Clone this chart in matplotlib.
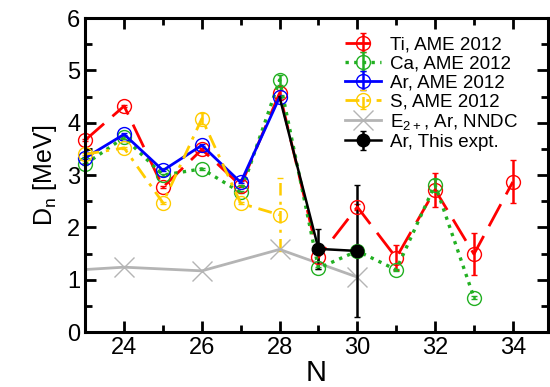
import numpy as np
import matplotlib
matplotlib.use("Agg")
import matplotlib.pyplot as plt
from matplotlib.ticker import MultipleLocator

plt.rcParams['font.family'] = ['Liberation Sans', 'DejaVu Sans']
plt.rcParams['mathtext.default'] = 'regular'

# data
n_ti = [23, 24, 25, 26, 27, 28, 29, 30, 31, 32, 33, 34]
d_ti = [3.67, 4.32, 2.77, 3.49, 2.80, 4.57, 1.43, 2.39, 1.42, 2.72, 1.49, 2.87]
e_ti = [0.02, 0.02, 0.02, 0.02, 0.02, 0.05, 0.1, 0.05, 0.24, 0.33, 0.40, 0.41]

n_ca = [23, 24, 25, 26, 27, 28, 29, 30, 31, 32, 33]
d_ca = [3.21, 3.72, 3.00, 3.12, 2.67, 4.82, 1.22, 1.55, 1.19, 2.82, 0.66]
e_ca = [0.02, 0.02, 0.02, 0.02, 0.02, 0.1, 0.02, 0.02, 0.02, 0.1, 0.02]

n_ar = [23, 24, 25, 26, 27, 28]
d_ar = [3.33, 3.78, 3.09, 3.57, 2.86, 4.49]
e_ar = [0.02, 0.02, 0.02, 0.02, 0.02, 0.05]

n_s = [23, 24, 25, 26, 27, 28]
d_s = [3.40, 3.52, 2.47, 4.08, 2.46, 2.24]
e_s = [0.02, 0.02, 0.02, 0.1, 0.02, 0.70]

n_e2 = [22, 24, 26, 28, 30]
e2_ar = [1.15, 1.24, 1.17, 1.58, 1.05]

n_exp = [28, 29, 30]
d_exp = [4.49, 1.59, 1.55]
e_exp = [0.0, 0.38, 1.26]

fig = plt.figure(figsize=(5.5, 3.87), dpi=100)
ax = fig.add_axes([0.155, 0.142, 0.841, 0.811])

mk = dict(marker='o', mfc='none', ms=10, mew=1.0, elinewidth=1.8, capsize=2, clip_on=False)
h_ti = ax.errorbar(n_ti, d_ti, yerr=e_ti, color='#ff0000', ls=(0, (9, 4)), lw=2, label='Ti, AME 2012', **mk)
h_ca = ax.errorbar(n_ca, d_ca, yerr=e_ca, color='#22b022', ls=(0, (1, 1.6)), lw=2.4, label='Ca, AME 2012', **mk)
h_ar = ax.errorbar(n_ar, d_ar, yerr=e_ar, color='#0000ff', ls='-', lw=2, label='Ar, AME 2012', **mk)
h_s = ax.errorbar(n_s, d_s, yerr=e_s, color='#ffcc00', ls=(0, (5, 2.5, 1.2, 2.5)), lw=2, label='S, AME 2012', **mk)
h_s[2][0].set_linestyle((0, (5, 2.5, 1.2, 2.5)))
h_e2, = ax.plot(n_e2, e2_ar, color='#b4b4b4', lw=2, marker='x', ms=14, mew=1.0, label='E$_{2+}$, Ar, NNDC')
h_exp = ax.errorbar(n_exp, d_exp, yerr=e_exp, color='black', lw=1.8, marker='o', ms=9,
                    markevery=[1, 2], elinewidth=1.8, capsize=2, label='Ar, This expt.')

ax.set_xlim(23, 34.9)
ax.set_ylim(0, 6)
ax.xaxis.set_major_locator(MultipleLocator(2))
ax.xaxis.set_minor_locator(MultipleLocator(1))
ax.yaxis.set_major_locator(MultipleLocator(1))
ax.yaxis.set_minor_locator(MultipleLocator(0.5))
ax.tick_params(which='both', direction='in', top=True, right=True, width=2, labelsize=17)
ax.tick_params(which='major', length=8)
ax.tick_params(which='minor', length=5)
for s in ax.spines.values():
    s.set_linewidth(2.2)

ax.set_xlabel('N', fontsize=21, labelpad=0)
ax.set_ylabel('D$_n$ [MeV]', fontsize=18, labelpad=6)

handles = [h_ti, h_ca, h_ar, h_s, h_e2, h_exp]
ax.legend(handles, [h.get_label() for h in handles], loc='upper right', frameon=False,
          fontsize=13.5, handlelength=1.9, handletextpad=0.5, labelspacing=0.1,
          borderaxespad=0.3, bbox_to_anchor=(0.965, 0.985))

fig.savefig('out.png', dpi=100)
